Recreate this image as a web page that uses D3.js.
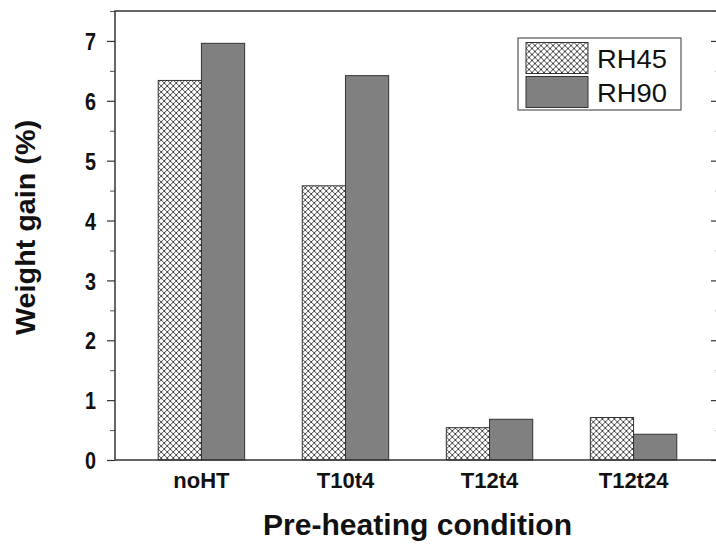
<!DOCTYPE html>
<html lang="en">
<head>
    <meta charset="UTF-8">
    <title>Weight gain bar chart</title>
    <style>
        body { margin: 0; background: #fff; }
        svg { display: block; font-family: 'Liberation Sans', Arial, sans-serif; }
    </style>
</head>
<body>
    <script src="https://cdnjs.cloudflare.com/ajax/libs/d3/7.8.5/d3.min.js"></script>
    <script>
        // data
        var categories = ['noHT', 'T10t4', 'T12t4', 'T12t24'];
        var seriesNames = ['RH45', 'RH90'];
        var rh45 = [6.34, 4.58, 0.54, 0.71];
        var rh90 = [6.96, 6.42, 0.68, 0.43];
        var yTicks = [0, 1, 2, 3, 4, 5, 6, 7];
        var yMinorTicks = [0.5, 1.5, 2.5, 3.5, 4.5, 5.5, 6.5, 7.5];

        var W = 716, H = 548;
        var margin = { top: 11, right: -4, bottom: 88, left: 115 };
        var width = W - margin.left - margin.right,
            height = H - margin.top - margin.bottom;

        var svg = d3.select('body').append('svg')
            .attr('width', W)
            .attr('height', H);

        // crosshatch fill for RH45
        var defs = svg.append('defs');
        var pat = defs.append('pattern')
            .attr('id', 'hatch')
            .attr('patternUnits', 'userSpaceOnUse')
            .attr('width', 6)
            .attr('height', 6);
        pat.append('rect').attr('width', 6).attr('height', 6).attr('fill', '#fff');
        pat.append('path')
            .attr('d', 'M-1,-1L7,7M-1,7L7,-1')
            .attr('stroke', '#333')
            .attr('stroke-width', 0.9);

        var g = svg.append('g')
            .attr('transform', 'translate(' + margin.left + ',' + margin.top + ')');

        var x0 = d3.scaleBand().domain(categories).range([0, width])
            .paddingInner(0.4).paddingOuter(0.3);
        var x1 = d3.scaleBand().domain(seriesNames).range([0, x0.bandwidth()]);
        var y = d3.scaleLinear().domain([0, 7.5]).range([height, 0]);

        var fills = { RH45: 'url(#hatch)', RH90: '#808080' };
        var rows = categories.map(function (c, i) {
            return { cat: c, values: [
                { key: 'RH45', value: rh45[i] },
                { key: 'RH90', value: rh90[i] }
            ] };
        });

        // bars
        g.selectAll('.group')
            .data(rows)
            .enter().append('g')
            .attr('class', 'group')
            .attr('transform', function (d) { return 'translate(' + x0(d.cat) + ',0)'; })
            .selectAll('rect')
            .data(function (d) { return d.values; })
            .enter().append('rect')
            .attr('x', function (d) { return x1(d.key); })
            .attr('width', x1.bandwidth())
            .attr('y', function (d) { return y(d.value); })
            .attr('height', function (d) { return height - y(d.value); })
            .attr('fill', function (d) { return fills[d.key]; })
            .attr('stroke', '#333')
            .attr('stroke-width', 1);

        // left axis: major + minor ticks
        var yAxis = d3.axisLeft(y).tickValues(yTicks).tickSize(8).tickPadding(11)
            .tickFormat(d3.format('d'));
        var ya = g.append('g').attr('class', 'y axis').call(yAxis);
        ya.select('.domain').remove();
        ya.selectAll('line').attr('stroke', '#333').attr('stroke-width', 1.2);
        ya.selectAll('text')
            .attr('dy', '0.36em')
            .attr('textLength', 11)
            .attr('lengthAdjust', 'spacingAndGlyphs')
            .style('font-size', '24px')
            .style('font-weight', 'bold')
            .attr('fill', '#111');

        var yMinor = g.append('g').call(
            d3.axisLeft(y).tickValues(yMinorTicks).tickSize(5).tickFormat(''));
        yMinor.select('.domain').remove();
        yMinor.selectAll('line').attr('stroke', '#555');

        // right axis ticks pointing inward
        var yr = g.append('g').attr('transform', 'translate(' + width + ',0)')
            .call(d3.axisRight(y).tickValues(yTicks).tickSize(-9).tickFormat(''));
        yr.select('.domain').remove();
        yr.selectAll('line').attr('stroke', '#333').attr('stroke-width', 1.2);
        var yrm = g.append('g').attr('transform', 'translate(' + width + ',0)')
            .call(d3.axisRight(y).tickValues(yMinorTicks).tickSize(-5).tickFormat(''));
        yrm.select('.domain').remove();
        yrm.selectAll('line').attr('stroke', '#bbb');

        // bottom axis labels
        var xa = g.append('g').attr('transform', 'translate(0,' + height + ')')
            .call(d3.axisBottom(x0).tickSize(0).tickPadding(12));
        xa.select('.domain').remove();
        xa.selectAll('text')
            .style('font-size', '22px')
            .style('font-weight', 'bold')
            .attr('fill', '#111');

        // frame
        g.append('rect')
            .attr('width', width)
            .attr('height', height)
            .attr('fill', 'none')
            .attr('stroke', '#333')
            .attr('stroke-width', 1.5);

        // axis titles
        svg.append('text')
            .attr('x', margin.left + width / 2)
            .attr('y', 535)
            .attr('text-anchor', 'middle')
            .attr('textLength', 309)
            .attr('lengthAdjust', 'spacingAndGlyphs')
            .style('font-size', '30px')
            .style('font-weight', 'bold')
            .attr('fill', '#111')
            .text('Pre-heating condition');

        svg.append('text')
            .attr('transform', 'translate(35,' + (margin.top + height / 2 - 8) + ') rotate(-90)')
            .attr('text-anchor', 'middle')
            .attr('textLength', 215)
            .attr('lengthAdjust', 'spacingAndGlyphs')
            .style('font-size', '28px')
            .style('font-weight', 'bold')
            .attr('fill', '#111')
            .text('Weight gain (%)');

        // legend
        var legend = svg.append('g').attr('transform', 'translate(518,38)');
        legend.append('rect')
            .attr('width', 163)
            .attr('height', 72)
            .attr('fill', '#fff')
            .attr('stroke', '#555')
            .attr('stroke-width', 1.2);
        var items = legend.selectAll('.legend-item')
            .data(seriesNames)
            .enter().append('g')
            .attr('class', 'legend-item')
            .attr('transform', function (d, i) { return 'translate(8,' + (4.5 + i * 34) + ')'; });
        items.append('rect')
            .attr('width', 62)
            .attr('height', 31)
            .attr('fill', function (d) { return fills[d]; })
            .attr('stroke', '#333');
        items.append('text')
            .attr('x', 71)
            .attr('y', 25)
            .attr('textLength', 70)
            .attr('lengthAdjust', 'spacingAndGlyphs')
            .style('font-size', '26px')
            .attr('fill', '#111')
            .text(function (d) { return d; });
    </script>
</body>
</html>
